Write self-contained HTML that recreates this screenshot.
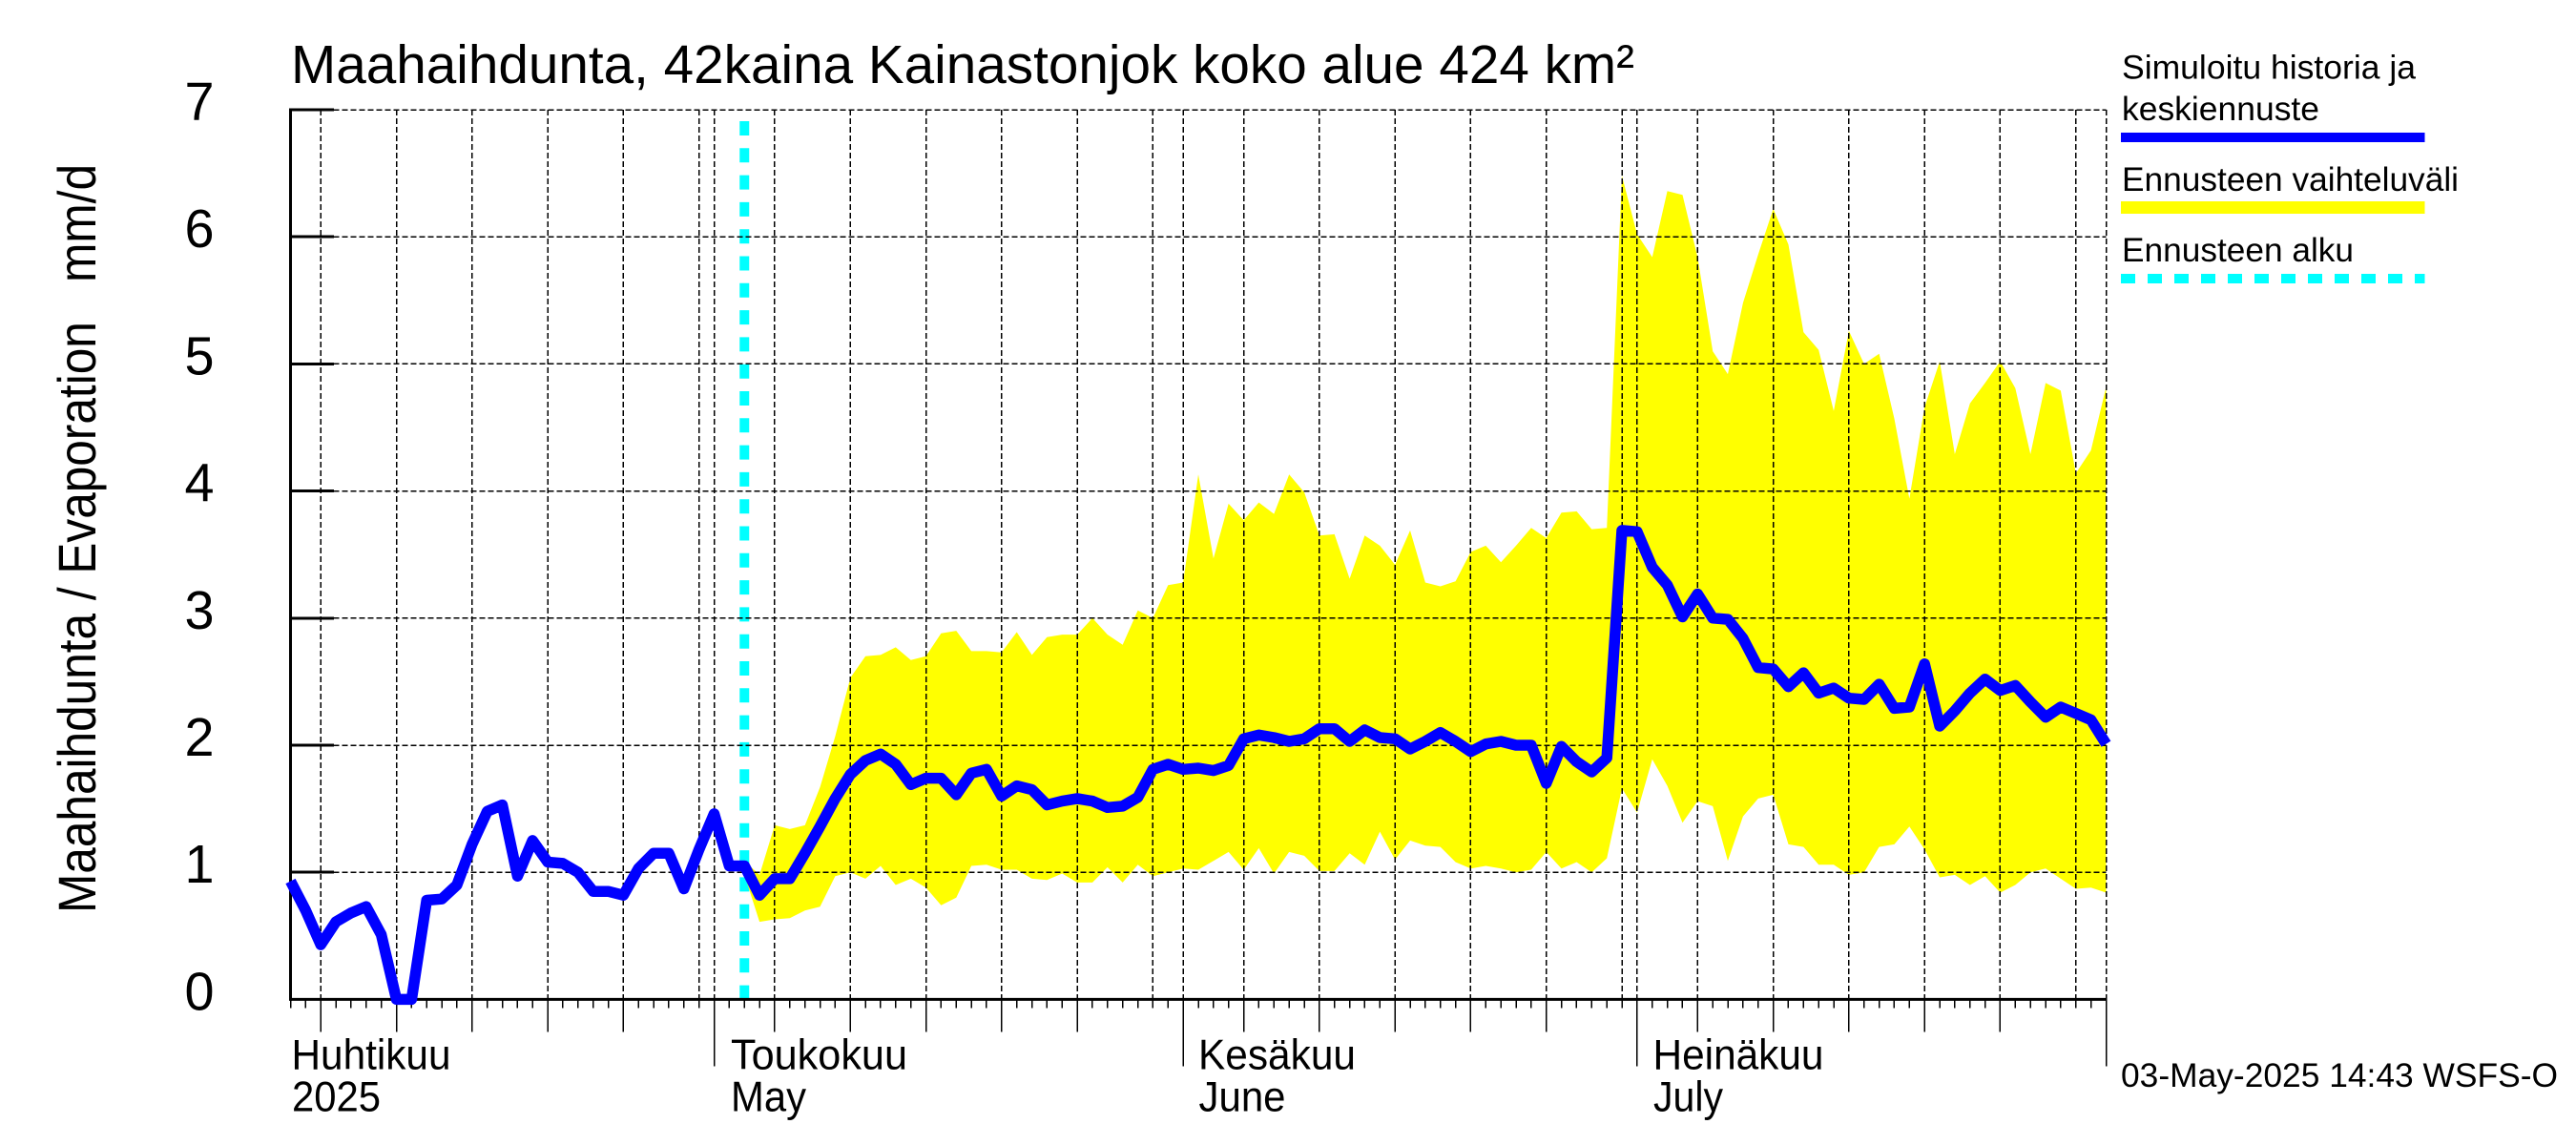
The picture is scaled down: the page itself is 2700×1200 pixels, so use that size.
<!DOCTYPE html>
<html lang="fi">
<head>
<meta charset="utf-8">
<title>Maahaihdunta, 42kaina Kainastonjok koko alue 424 km²</title>
<style>
html,body{margin:0;padding:0;background:#fff;width:2700px;height:1200px;overflow:hidden}
svg{display:block}
text{font-family:"Liberation Sans",sans-serif;fill:#000;white-space:pre}
</style>
</head>
<body>
<svg id="chart" xmlns="http://www.w3.org/2000/svg" width="2700" height="1200" viewBox="0 0 2700 1200">
  <rect x="0" y="0" width="2700" height="1200" fill="#fff"/>
  <g id="start-layer"></g>
  <g id="band-layer"></g>
  <g id="grid-layer"></g>
  <g id="axis-layer"></g>
  <g id="line-layer"></g>

  <text x="305" y="87" font-size="57" textLength="1408" lengthAdjust="spacingAndGlyphs">Maahaihdunta, 42kaina Kainastonjok koko alue 424 km²</text>
  <text transform="translate(100,957) rotate(-90)" x="0" y="0" font-size="56" textLength="785" lengthAdjust="spacingAndGlyphs">Maahaihdunta / Evaporation   mm/d</text>

  <text x="305.5" y="1120.5" font-size="44.5" textLength="167" lengthAdjust="spacingAndGlyphs">Huhtikuu</text>
  <text x="306" y="1164.5" font-size="44.5" textLength="93" lengthAdjust="spacingAndGlyphs">2025</text>
  <text x="766" y="1120.5" font-size="44.5" textLength="185" lengthAdjust="spacingAndGlyphs">Toukokuu</text>
  <text x="766" y="1164.5" font-size="44.5" textLength="79" lengthAdjust="spacingAndGlyphs">May</text>
  <text x="1256" y="1120.5" font-size="44.5" textLength="165" lengthAdjust="spacingAndGlyphs">Kesäkuu</text>
  <text x="1256.5" y="1164.5" font-size="44.5" textLength="91" lengthAdjust="spacingAndGlyphs">June</text>
  <text x="1732.5" y="1120.5" font-size="44.5" textLength="179" lengthAdjust="spacingAndGlyphs">Heinäkuu</text>
  <text x="1733" y="1164.5" font-size="44.5" textLength="73" lengthAdjust="spacingAndGlyphs">July</text>

  <g>
    <text x="2224" y="82.7" font-size="35" textLength="308" lengthAdjust="spacingAndGlyphs">Simuloitu historia ja</text>
    <text x="2224" y="126" font-size="35" textLength="207" lengthAdjust="spacingAndGlyphs">keskiennuste</text>
    <rect x="2223" y="139" width="318.5" height="10" fill="#0000ff"/>
    <text x="2224" y="200" font-size="35" textLength="353" lengthAdjust="spacingAndGlyphs">Ennusteen vaihteluväli</text>
    <rect x="2223" y="211" width="318.5" height="13" fill="#ffff00"/>
    <text x="2224" y="274" font-size="35" textLength="243" lengthAdjust="spacingAndGlyphs">Ennusteen alku</text>
    <line x1="2223" y1="292" x2="2541.5" y2="292" stroke="#00ffff" stroke-width="10" stroke-dasharray="15 13"/>
  </g>

  <text x="2223" y="1139" font-size="35" textLength="458" lengthAdjust="spacingAndGlyphs">03-May-2025 14:43 WSFS-O</text>
</svg>
<script>
var startDate = '2025-04-03';
var dayCount = 120;
var forecastStartDay = 30;
var yTickLabels = [0, 1, 2, 3, 4, 5, 6, 7];
var meanValues = [
0.93,0.70,0.43,0.61,0.68,0.73,0.51,0,0,0.78,
0.79,0.90,1.22,1.48,1.53,0.97,1.25,1.08,1.07,1.00,
0.85,0.85,0.82,1.03,1.15,1.15,0.87,1.18,1.46,1.05,
1.05,0.82,0.95,0.95,1.15,1.36,1.58,1.77,1.88,1.93,
1.85,1.69,1.74,1.74,1.61,1.78,1.81,1.60,1.68,1.65,
1.53,1.56,1.58,1.56,1.51,1.52,1.59,1.81,1.85,1.81,
1.82,1.80,1.84,2.05,2.08,2.06,2.03,2.05,2.13,2.13,
2.03,2.12,2.06,2.05,1.97,2.03,2.10,2.03,1.95,2.01,
2.03,2.00,2.00,1.70,1.99,1.87,1.79,1.90,3.69,3.68,
3.40,3.26,3.01,3.19,3.00,2.99,2.84,2.61,2.60,2.46,
2.57,2.41,2.45,2.37,2.36,2.48,2.29,2.30,2.64,2.15,
2.27,2.41,2.52,2.43,2.47,2.34,2.22,2.30,2.25,2.20,
2.01];
var upperValues = [
1.09,0.98,1.37,1.34,1.37,1.67,2.07,2.53,2.70,2.71,
2.77,2.67,2.70,2.88,2.90,2.74,2.74,2.73,2.89,2.71,
2.85,2.87,2.87,3.00,2.87,2.79,3.06,3.00,3.26,3.28,
4.13,3.47,3.90,3.77,3.91,3.82,4.13,3.99,3.65,3.66,
3.31,3.65,3.57,3.42,3.69,3.28,3.25,3.29,3.52,3.57,
3.44,3.57,3.71,3.63,3.83,3.84,3.70,3.71,6.48,6.02,
5.84,6.36,6.33,5.84,5.10,4.92,5.48,5.86,6.22,5.94,
5.25,5.11,4.63,5.26,5.00,5.08,4.57,3.94,4.66,5.02,
4.29,4.69,4.85,5.02,4.81,4.29,4.85,4.79,4.14,4.32,
4.82];
var lowerValues = [
0.98,0.61,0.63,0.64,0.70,0.73,0.97,1.00,0.95,1.05,
0.90,0.95,0.88,0.74,0.80,1.05,1.06,1.02,1.02,0.95,
0.94,0.99,0.92,0.92,1.04,0.92,1.06,0.97,1.00,1.03,
1.02,1.09,1.16,1.02,1.19,0.99,1.16,1.13,1.01,1.01,
1.15,1.06,1.32,1.10,1.25,1.21,1.20,1.08,1.03,1.05,
1.03,1.00,1.02,1.16,1.03,1.08,1.00,1.11,1.66,1.47,
1.89,1.68,1.39,1.56,1.52,1.09,1.44,1.58,1.61,1.22,
1.20,1.06,1.06,0.98,1.00,1.20,1.22,1.36,1.18,0.96,
0.98,0.90,0.97,0.84,0.90,1.00,1.03,0.95,0.87,0.88,
0.84];

var SVG_NS = 'http://www.w3.org/2000/svg';
var plotLeft = 304.5, plotRight = 2207.5, plotTop = 115, plotBottom = 1047.4, yMax = 7;
function xScale(day) { return plotLeft + (plotRight - plotLeft) * day / dayCount; }
function yScale(v) { return plotBottom - (plotBottom - plotTop) * v / yMax; }
function make(tag, attrs, parent) {
  var el = document.createElementNS(SVG_NS, tag);
  for (var k in attrs) el.setAttribute(k, attrs[k]);
  parent.appendChild(el);
  return el;
}
function dayOfMonth(day) {
  var d = new Date(startDate + 'T00:00:00Z');
  d.setUTCDate(d.getUTCDate() + day);
  return d.getUTCDate();
}
var bandLayer = document.getElementById('band-layer');
var gridLayer = document.getElementById('grid-layer');
var axisLayer = document.getElementById('axis-layer');
var lineLayer = document.getElementById('line-layer');
var startLayer = document.getElementById('start-layer');

/* forecast range */
var bandPts = [];
upperValues.forEach(function (v, i) { bandPts.push(xScale(forecastStartDay + i).toFixed(1) + ',' + yScale(v).toFixed(1)); });
for (var b = lowerValues.length - 1; b >= 0; b--) { bandPts.push(xScale(forecastStartDay + b).toFixed(1) + ',' + yScale(lowerValues[b]).toFixed(1)); }
var band = make('polygon', { points: bandPts.join(' '), fill: '#ffff00' }, bandLayer);



/* horizontal grid, y ticks, y labels */
yTickLabels.forEach(function (label) {
  var y = yScale(label);
  if (label > 0) {
    var g = make('line', { x1: plotLeft, y1: y, x2: plotRight, y2: y, stroke: '#000', 'stroke-width': 1.5, 'stroke-dasharray': '6 3', 'shape-rendering': 'crispEdges' }, gridLayer);
    
    
    var t = make('line', { x1: plotLeft, y1: y, x2: 350, y2: y, stroke: '#000', 'stroke-width': 3, 'shape-rendering': 'crispEdges' }, axisLayer);
    
    
  }
  var txt = make('text', { x: 193.5, y: y + 11, 'font-size': 57, textLength: 31, lengthAdjust: 'spacingAndGlyphs' }, axisLayer);
  txt.textContent = String(label);
  
  
});

/* day ticks and vertical grid */
for (var day = 0; day <= dayCount; day++) {
  var dom = dayOfMonth(day);
  var x = xScale(day);
  var isFirst = dom === 1;
  var hasGrid = isFirst || dom % 5 === 0;
  var isMid = dom % 5 === 0 && dom !== 30;
  var tickEnd = isFirst ? 1117.5 : (isMid ? 1081.5 : 1056.5);
  if (hasGrid) {
    var vg = make('line', { x1: x, y1: plotTop, x2: x, y2: plotBottom, stroke: '#000', 'stroke-width': 1.5, 'stroke-dasharray': '6 3', 'shape-rendering': 'crispEdges' }, gridLayer);
    
    
  }
  var dt = make('line', { x1: x, y1: plotBottom, x2: x, y2: tickEnd, stroke: '#000', 'stroke-width': 1.5, 'shape-rendering': 'crispEdges' }, axisLayer);
  
  
}

/* axes */
var yAxis = make('line', { x1: plotLeft, y1: plotTop - 1.5, x2: plotLeft, y2: plotBottom + 1.5, stroke: '#000', 'stroke-width': 3 }, axisLayer);


var xAxis = make('line', { x1: plotLeft, y1: plotBottom, x2: plotRight, y2: plotBottom, stroke: '#000', 'stroke-width': 3 }, axisLayer);



/* mean line */
var linePts = meanValues.map(function (v, i) { return xScale(i).toFixed(1) + ',' + yScale(v).toFixed(1); });
var meanLine = make('polyline', { points: linePts.join(' '), fill: 'none', stroke: '#0000ff', 'stroke-width': 11.5, 'stroke-linejoin': 'round', 'stroke-linecap': 'butt' }, lineLayer);



/* forecast start marker */
var startX = xScale(forecastStartDay);
var startLine = make('line', { x1: startX, y1: 127, x2: startX, y2: 1048, stroke: '#00ffff', 'stroke-width': 10, 'stroke-dasharray': '15 13.3' }, startLayer);


</script>
</body>
</html>
